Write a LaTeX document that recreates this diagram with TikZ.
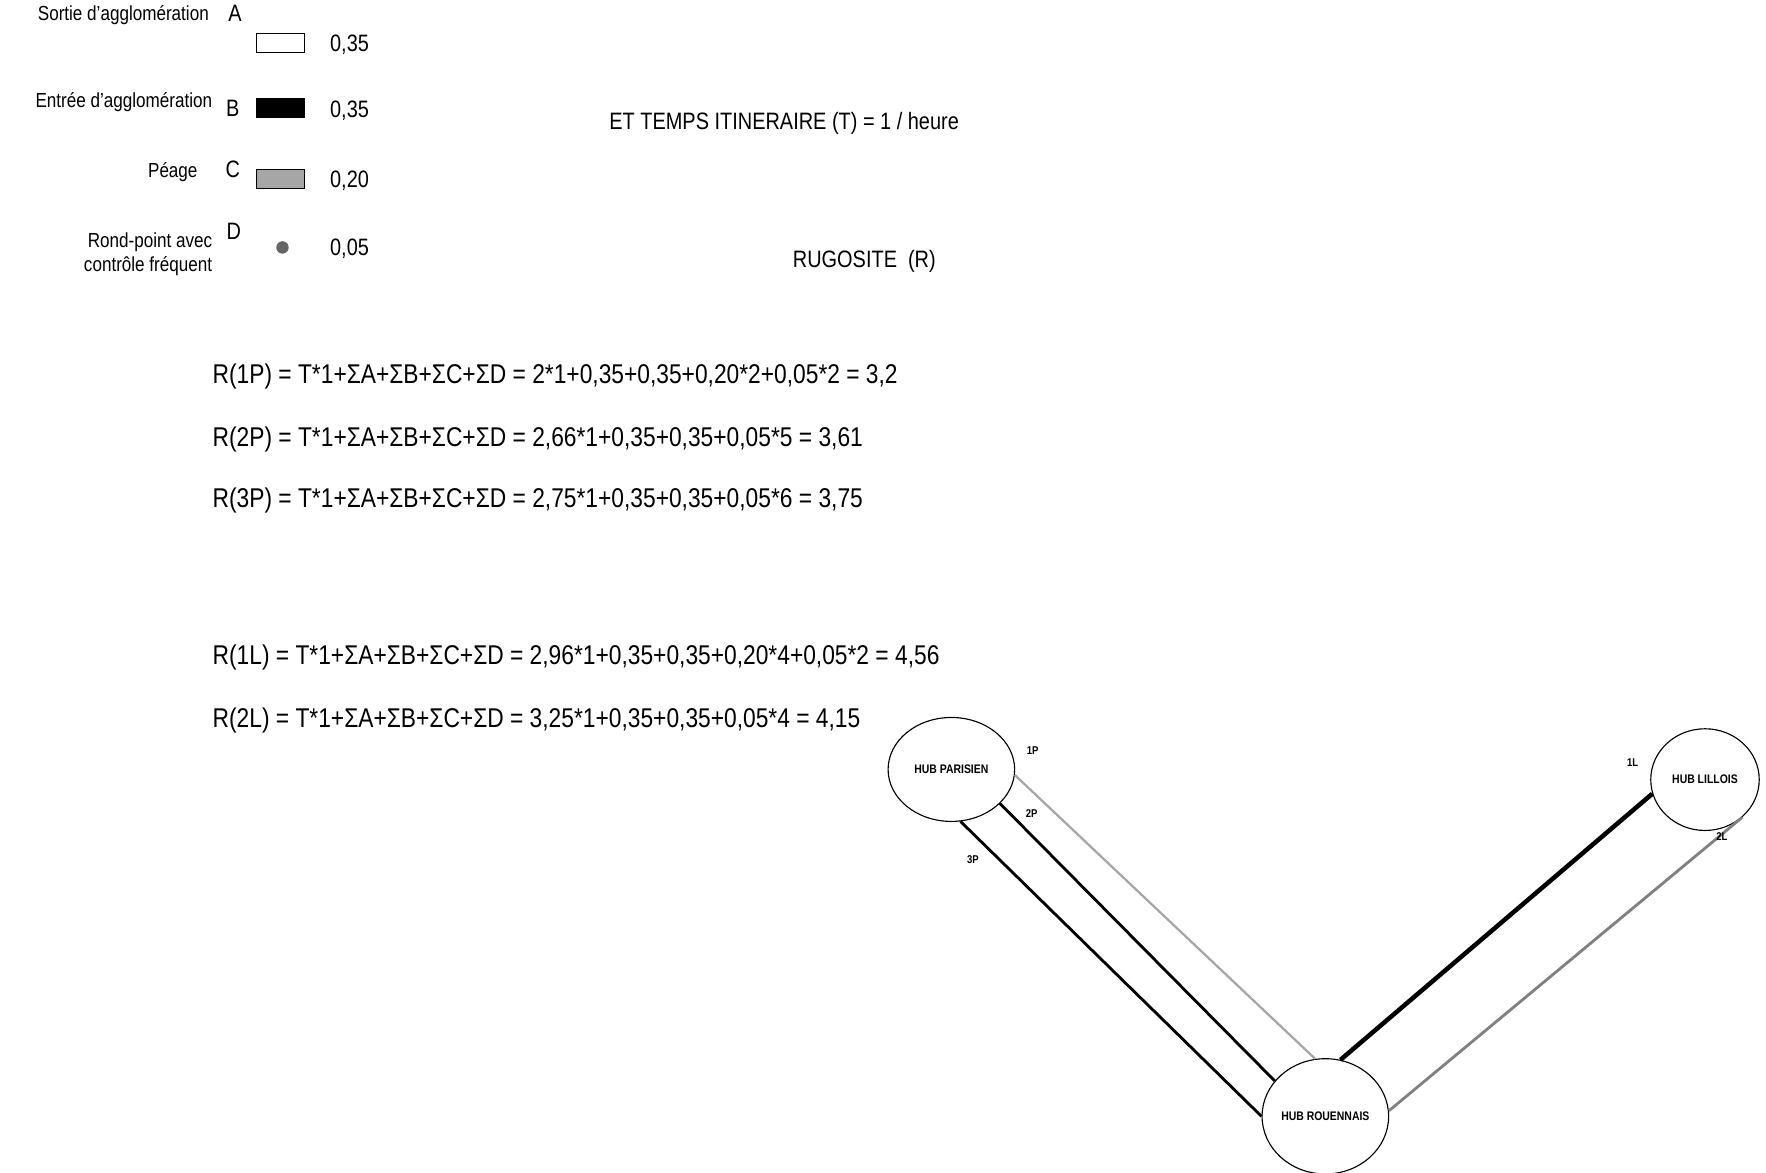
\documentclass[tikz,border=0pt]{standalone}
\usepackage{fontspec}
\setmainfont{Liberation Sans}[FakeStretch=0.84]
\usetikzlibrary{shapes.geometric}
\begin{document}
\begin{tikzpicture}[x=1pt,y=-1pt,
  lab/.style={font=\fontsize{21}{24}\selectfont,inner sep=0pt},
  leg/.style={font=\fontsize{18}{22}\selectfont,inner sep=0pt,anchor=east,align=right},
  eq/.style={font=\fontsize{24}{28}\selectfont,inner sep=0pt,anchor=west},
  hub/.style={draw,ellipse,line width=1pt,font=\bfseries\fontsize{11}{13}\selectfont,inner sep=0pt},
  sm/.style={font=\bfseries\fontsize{10}{12}\selectfont,inner sep=0pt}]
\useasboundingbox (0,0) rectangle (1563,1038);
% legend
\node[leg] (la) at (185,13) {Sortie d'agglomération};
\node[lab] (A) at (208,12) {A};
\node[draw,minimum width=43pt,minimum height=17pt,inner sep=0pt] (ra) at (248,38) {};
\node[lab,anchor=west] (va) at (292,40) {0,35};
\node[leg] (lb) at (188,90) {Entrée d'agglomération};
\node[lab] (B) at (206,96) {B};
\node[draw,fill=black,minimum width=43pt,minimum height=17pt,inner sep=0pt] (rb) at (248,95) {};
\node[lab,anchor=west] (vb) at (292,98) {0,35};
\node[leg] (lc) at (175,152) {Péage};
\node[lab] (C) at (206,150) {C};
\node[draw,fill=gray!70,minimum width=43pt,minimum height=17pt,inner sep=0pt] (rc) at (248,158) {};
\node[lab,anchor=west] (vc) at (292,160) {0,20};
\node[leg] (ld) at (188,225) {Rond-point avec\\contrôle fréquent};
\node[lab] (D) at (207,205) {D};
\node[circle,fill=gray!80!black,minimum size=11pt,inner sep=0pt] (rd) at (250,219) {};
\node[lab,anchor=west] (vd) at (292,220) {0,05};
\node[lab] (t1) at (694,109) {ET TEMPS ITINERAIRE (T) = 1 / heure};
\node[lab] (t2) at (765,231) {RUGOSITE \ (R)};
% equations
\node[eq] (e1) at (188,333) {R(1P) = T*1+ΣA+ΣB+ΣC+ΣD = 2*1+0,35+0,35+0,20*2+0,05*2 = 3,2};
\node[eq] (e2) at (188,389) {R(2P) = T*1+ΣA+ΣB+ΣC+ΣD = 2,66*1+0,35+0,35+0,05*5 = 3,61};
\node[eq] (e3) at (188,443) {R(3P) = T*1+ΣA+ΣB+ΣC+ΣD = 2,75*1+0,35+0,35+0,05*6 = 3,75};
\node[eq] (e4) at (188,582) {R(1L) = T*1+ΣA+ΣB+ΣC+ΣD = 2,96*1+0,35+0,35+0,20*4+0,05*2 = 4,56};
\node[eq] (e5) at (188,638) {R(2L) = T*1+ΣA+ΣB+ΣC+ΣD = 3,25*1+0,35+0,35+0,05*4 = 4,15};
% hubs
\node[hub,minimum width=112pt,minimum height=92pt] (par) at (842,681) {HUB PARISIEN};
\node[hub,minimum width=96pt,minimum height=90pt] (lil) at (1509,690) {HUB LILLOIS};
\node[hub,minimum width=112pt,minimum height=102pt] (rou) at (1173,988) {HUB ROUENNAIS};
\draw[gray!70,line width=2pt] (par.-5) -- (rou.100);
\draw[line width=2.5pt] (par.-35) -- (rou.145);
\draw[line width=2.5pt] (par.-80) -- (rou.180);
\draw[line width=4pt] (rou.75) -- (lil.195);
\draw[gray,line width=2.5pt] (rou.5) -- (lil.-45);
\node[sm] (l1p) at (914,664) {1P};
\node[sm] (l2p) at (913,720) {2P};
\node[sm] (l3p) at (861,761) {3P};
\node[sm] (l1l) at (1445,675) {1L};
\node[sm] (l2l) at (1524,740) {2L};
\end{tikzpicture}
\end{document}
